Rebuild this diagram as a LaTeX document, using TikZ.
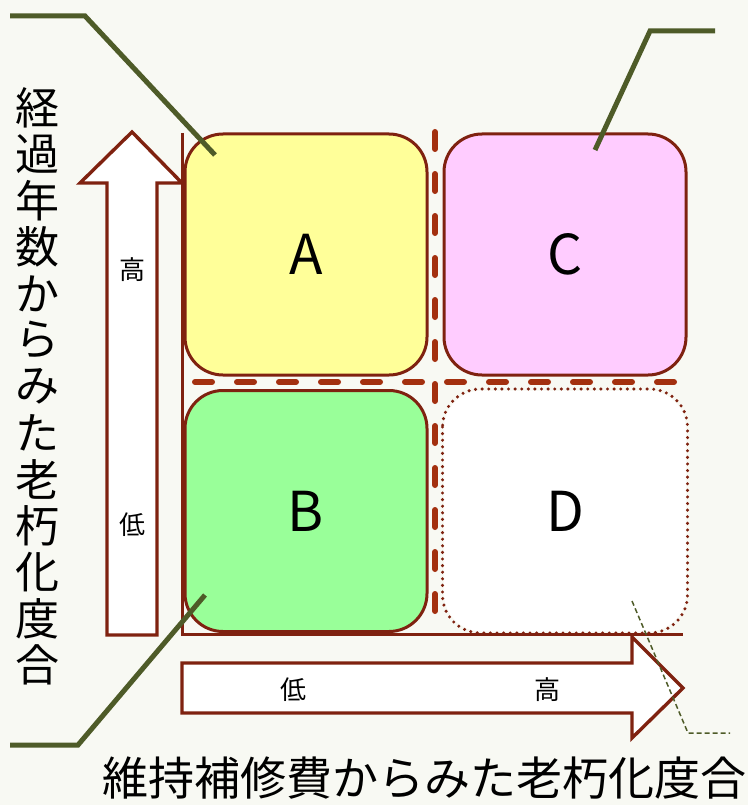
\documentclass[tikz,border=0pt]{standalone}
\usepackage{fontspec}
\setmainfont{Noto Sans CJK JP}
\definecolor{bgc}{HTML}{F8F9F3}
\definecolor{brd}{HTML}{7F2210}
\definecolor{dsh}{HTML}{A3300F}
\definecolor{cgreen}{HTML}{4E5B28}
\definecolor{fa}{HTML}{FFFF99}
\definecolor{fb}{HTML}{99FF99}
\definecolor{fc}{HTML}{FFCCFF}
\tikzset{
  quad/.style={draw=brd, line width=3pt, rounded corners=38pt, minimum width=242pt, minimum height=241pt, inner sep=0pt, font=\fontsize{55}{60}\selectfont},
  axisline/.style={draw=brd, line width=3pt},
  bigarrow/.style={draw=brd, line width=3.4pt, fill=white, line join=miter},
  divider/.style={draw=dsh, line width=6pt, line cap=round, dash pattern=on 17pt off 25pt},
  callout/.style={draw=cgreen, line width=5pt},
  thincallout/.style={draw=cgreen, line width=1.5pt, dash pattern=on 5pt off 3pt},
  small/.style={font=\fontsize{26}{28}\selectfont, inner sep=0pt},
  vchar/.style={font=\fontsize{44}{46}\selectfont, inner sep=0pt},
}
\begin{document}
\begin{tikzpicture}[x=1pt, y=-1pt]
\fill[bgc] (0,0) rectangle (748,805);
\useasboundingbox (0,0) rectangle (748,805);
% boxes
\node[quad, fill=fa] (A) at (306,254.5) {A};
\node[quad, fill=fc] (C) at (565,254.5) {C};
\node[quad, fill=fb] (B) at (306,511) {B};
\node[quad, fill=white, draw=none] (D) at (565,511) {D};
\draw[draw=brd, line width=3.4pt, line cap=round, dash pattern=on 0pt off 6.6pt, rounded corners=38pt] (D.north west) rectangle (D.south east);
% dividers
\coordinate (hd1) at (195,382);
\coordinate (hd2) at (683,382);
\coordinate (vd1) at (435,132);
\coordinate (vd2) at (435,620);
\draw[divider] (hd1) -- (hd2);
\draw[divider] (vd1) -- (vd2);
% axes
\coordinate (ax0) at (182,634);
\coordinate (axy) at (182,133);
\coordinate (axx) at (683,634);
\draw[axisline] (axy) -- (ax0) -- (axx);
% up arrow
\draw[bigarrow] (107,635) -- (107,183) -- (80,183) -- (132,132) -- (182,183) -- (157,183) -- (157,635) -- cycle;
% right arrow
\draw[bigarrow] (182,663) -- (632,663) -- (632,637) -- (683,688) -- (632,738) -- (632,713) -- (182,713) -- cycle;
% arrow labels
\node[small] (uh) at (132,270) {高};
\node[small] (ul) at (132,525) {低};
\node[small] (rl) at (293,690) {低};
\node[small] (rh) at (547,690) {高};
% vertical axis title
\foreach \c [count=\i from 0] in {経,過,年,数,か,ら,み,た,老,朽,化,度,合}
  \node[vchar] (v\i) at (37,108+46.4*\i) {\c};
% horizontal axis title
\node[font=\fontsize{46}{48}\selectfont, inner sep=0pt] (htitle) at (424,778) {維持補修費からみた老朽化度合};
% callouts
\coordinate (c1a) at (10,16);
\coordinate (c1b) at (85,16);
\coordinate (c1c) at (215,155);
\draw[callout] (c1a) -- (c1b) -- (c1c);
\coordinate (c2a) at (595,150);
\coordinate (c2b) at (650,31);
\coordinate (c2c) at (715,31);
\draw[callout] (c2a) -- (c2b) -- (c2c);
\coordinate (c3a) at (205,595);
\coordinate (c3b) at (78,745);
\coordinate (c3c) at (10,745);
\draw[callout] (c3a) -- (c3b) -- (c3c);
\coordinate (c4a) at (632,601);
\coordinate (c4b) at (688,733);
\coordinate (c4c) at (730,733);
\draw[thincallout] (c4a) -- (c4b) -- (c4c);
\end{tikzpicture}
\end{document}
